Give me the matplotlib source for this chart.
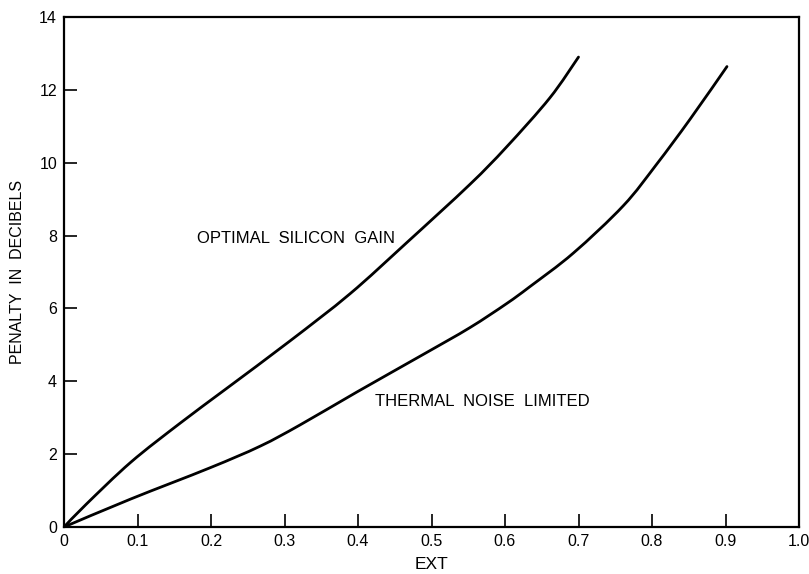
import matplotlib
matplotlib.use("Agg")
import matplotlib.pyplot as plt
from matplotlib.path import Path
from matplotlib.patches import PathPatch

# Data
silicon_x = [0, 0.03, 0.091, 0.158, 0.221, 0.307, 0.389, 0.466, 0.552, 0.602, 0.661, 0.70]
silicon_y = [0, 0.62, 1.78, 2.85, 3.80, 5.10, 6.40, 7.80, 9.40, 10.43, 11.78, 12.9]

thermal_x = [0, 0.091, 0.198, 0.267, 0.321, 0.398, 0.489, 0.552, 0.602, 0.634, 0.693, 0.761, 0.806, 0.852, 0.902]
thermal_y = [0, 0.77, 1.62, 2.22, 2.80, 3.70, 4.74, 5.47, 6.13, 6.60, 7.52, 8.82, 9.95, 11.20, 12.64]

x_ticks = [0, 0.1, 0.2, 0.3, 0.4, 0.5, 0.6, 0.7, 0.8, 0.9, 1.0]
x_tick_labels = ["0", "0.1", "0.2", "0.3", "0.4", "0.5", "0.6", "0.7", "0.8", "0.9", "1.0"]
y_ticks = [0, 2, 4, 6, 8, 10, 12, 14]
y_tick_labels = ["0", "2", "4", "6", "8", "10", "12", "14"]

plt.rcParams['font.family'] = ['Liberation Sans', 'DejaVu Sans']


def smooth_path(xs, ys):
    """Catmull-Rom curve through the read points, expressed as cubic Bezier segments."""
    pts = list(zip(xs, ys))
    verts = [pts[0]]
    codes = [Path.MOVETO]
    n = len(pts)
    for i in range(n - 1):
        p0 = pts[i - 1] if i > 0 else pts[i]
        p1 = pts[i]
        p2 = pts[i + 1]
        p3 = pts[i + 2] if i + 2 < n else pts[i + 1]
        c1 = (p1[0] + (p2[0] - p0[0]) / 6, p1[1] + (p2[1] - p0[1]) / 6)
        c2 = (p2[0] - (p3[0] - p1[0]) / 6, p2[1] - (p3[1] - p1[1]) / 6)
        verts += [c1, c2, p2]
        codes += [Path.CURVE4] * 3
    return Path(verts, codes)


fig = plt.figure(figsize=(8.09, 5.74), dpi=100)
ax = fig.add_axes([64/809, 1 - 527/574, (799-64)/809, (527-17)/574])

for xs, ys in [(silicon_x, silicon_y), (thermal_x, thermal_y)]:
    ax.add_patch(PathPatch(smooth_path(xs, ys), facecolor='none', edgecolor='black',
                           lw=2, capstyle='round', joinstyle='round'))

ax.set_xlim(0, 1.0)
ax.set_ylim(0, 14)
ax.set_xticks(x_ticks)
ax.set_xticklabels(x_tick_labels)
ax.set_yticks(y_ticks)
ax.set_yticklabels(y_tick_labels)
ax.tick_params(direction='in', length=9.5, width=1.2, labelsize=11.5, pad=5,
               top=False, right=False, colors='black')
for s in ax.spines.values():
    s.set_linewidth(1.6)

ax.set_xlabel("EXT", fontsize=12.5, labelpad=6)
ax.set_ylabel("PENALTY  IN  DECIBELS", fontsize=11.5, labelpad=10)

ax.text(0.181, 7.93, "OPTIMAL  SILICON  GAIN", fontsize=12, ha='left', va='center')
ax.text(0.423, 3.45, "THERMAL  NOISE  LIMITED", fontsize=12, ha='left', va='center')

fig.savefig("out.png", dpi=100)
